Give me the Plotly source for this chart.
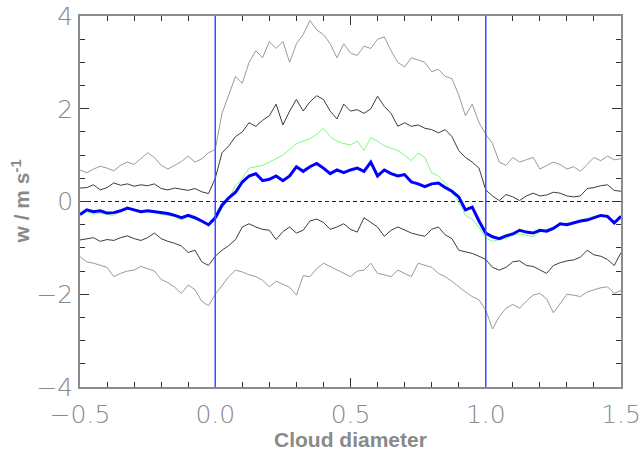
import numpy as np
import plotly.graph_objects as go

# x positions (cloud diameter), step 0.025 from -0.5 to 1.5
x_start, x_step, n_pts = -0.5, 0.025, 81
cloud_x = [round(x_start + i * x_step, 4) for i in range(n_pts)]

upper_outer = [0.68, 0.62, 0.70, 0.76, 0.72, 0.66, 0.78, 0.85, 0.80, 0.92, 1.05, 0.95, 0.78, 0.70, 0.78, 0.86, 0.98, 0.85, 0.92, 1.05, 1.12,
               1.90, 2.30, 2.70, 2.55, 3.00, 3.25, 3.10, 3.45, 3.30, 3.45, 3.00, 3.40, 3.60, 3.90, 3.70, 3.60, 3.40, 3.10, 3.40, 3.20,
               3.15, 3.35, 3.30, 3.50, 3.55, 3.25, 3.00, 2.90, 3.10, 3.05, 3.00, 2.80, 2.85, 2.70, 2.65, 2.30, 1.85, 2.10, 1.70, 1.45,
               1.25, 0.85, 0.78, 0.95, 0.85, 0.90, 0.95, 0.70, 0.78, 0.85, 0.80, 0.70, 0.75, 0.65, 0.80, 0.95, 0.88, 0.98, 0.90, 0.92]

upper_inner = [0.29, 0.30, 0.36, 0.25, 0.30, 0.40, 0.35, 0.38, 0.33, 0.36, 0.34, 0.38, 0.28, 0.25, 0.29, 0.26, 0.24, 0.28, 0.21, 0.17, 0.50,
               1.05, 1.20, 1.40, 1.50, 1.70, 1.62, 1.75, 1.85, 2.10, 1.65, 1.95, 2.20, 1.95, 2.15, 2.28, 2.20, 1.95, 1.78, 2.10, 1.95,
               1.98, 1.90, 2.00, 2.27, 2.05, 1.90, 1.62, 1.70, 1.62, 1.65, 1.58, 1.55, 1.48, 1.55, 1.40, 1.10, 0.95, 0.85, 0.72, 0.25,
               0.12, 0.02, 0.15, 0.10, 0.02, 0.12, 0.18, 0.12, 0.14, 0.20, 0.18, 0.12, 0.10, 0.12, 0.28, 0.30, 0.34, 0.36, 0.24, 0.22]

mean_blue = [-0.28, -0.18, -0.22, -0.20, -0.25, -0.24, -0.20, -0.14, -0.18, -0.22, -0.20, -0.22, -0.24, -0.26, -0.30, -0.35, -0.30, -0.35, -0.42, -0.50, -0.35,
             -0.08, 0.08, 0.20, 0.42, 0.55, 0.60, 0.45, 0.48, 0.55, 0.45, 0.55, 0.75, 0.65, 0.75, 0.82, 0.72, 0.60, 0.68, 0.62, 0.68,
             0.72, 0.65, 0.85, 0.55, 0.68, 0.60, 0.55, 0.58, 0.42, 0.38, 0.32, 0.38, 0.40, 0.30, 0.22, 0.10, -0.18, -0.12, -0.42, -0.68,
             -0.76, -0.80, -0.74, -0.70, -0.62, -0.66, -0.68, -0.62, -0.64, -0.58, -0.48, -0.50, -0.46, -0.42, -0.40, -0.35, -0.30, -0.32, -0.46, -0.32]

green_series = [-0.30, -0.22, -0.28, -0.25, -0.28, -0.30, -0.22, -0.12, -0.20, -0.25, -0.22, -0.24, -0.28, -0.30, -0.32, -0.40, -0.33, -0.38, -0.45, -0.52, -0.40,
                -0.15, 0.05, 0.35, 0.50, 0.72, 0.75, 0.78, 0.85, 0.92, 1.00, 1.12, 1.25, 1.30, 1.35, 1.45, 1.58, 1.40, 1.30, 1.25, 1.22,
                1.30, 1.10, 1.38, 1.30, 1.20, 1.15, 1.10, 1.00, 0.88, 1.05, 0.95, 0.62, 0.55, 0.40, 0.20, 0.00, -0.30, -0.38, -0.55, -0.78,
                -0.86, -0.82, -0.80, -0.72, -0.70, -0.72, -0.76, -0.66, -0.60, -0.55, -0.50, -0.46, -0.48, -0.40, -0.36, -0.32, -0.28, -0.36, -0.44, -0.30]

lower_inner = [-0.83, -0.80, -0.78, -0.86, -0.82, -0.84, -0.78, -0.74, -0.80, -0.84, -0.78, -0.68, -0.80, -0.86, -0.90, -0.96, -1.10, -1.05, -1.30, -1.38, -1.18,
               -1.05, -0.95, -0.82, -0.55, -0.48, -0.55, -0.60, -0.62, -0.82, -0.65, -0.55, -0.68, -0.62, -0.42, -0.38, -0.45, -0.60, -0.55, -0.48, -0.60,
               -0.66, -0.35, -0.45, -0.55, -0.75, -0.62, -0.55, -0.62, -0.68, -0.72, -0.75, -0.60, -0.55, -0.72, -0.80, -1.05, -1.08, -1.12, -1.18, -1.25,
               -1.42, -1.48, -1.42, -1.30, -1.28, -1.38, -1.40, -1.48, -1.55, -1.38, -1.32, -1.28, -1.26, -1.20, -1.05, -1.15, -1.18, -1.25, -1.38, -1.10]

lower_outer = [-1.19, -1.30, -1.33, -1.38, -1.42, -1.62, -1.55, -1.50, -1.48, -1.40, -1.45, -1.50, -1.68, -1.75, -1.85, -1.98, -1.80, -1.90, -2.15, -2.25, -2.00,
               -1.80, -1.62, -1.48, -1.52, -1.58, -1.62, -1.70, -1.84, -1.72, -1.78, -1.85, -2.02, -1.60, -1.62, -1.45, -1.33, -1.40, -1.48, -1.55, -1.62,
               -1.50, -1.48, -1.33, -1.55, -1.58, -1.62, -1.48, -1.55, -1.62, -1.33, -1.38, -1.42, -1.55, -1.62, -1.72, -1.84, -1.95, -2.05, -2.12, -2.34,
               -2.75, -2.48, -2.30, -2.22, -2.30, -2.15, -2.02, -1.98, -2.10, -2.40, -2.20, -2.00, -2.02, -2.05, -1.95, -1.90, -1.86, -1.84, -1.98, -1.92]

cloud_edges = [0.0, 1.0]

fig = go.Figure()

def add_line(y, color, width):
    fig.add_trace(go.Scatter(x=cloud_x, y=y, mode="lines",
                             line=dict(color=color, width=width), showlegend=False,
                             hoverinfo="skip"))

add_line(upper_outer, "#9a9a9a", 1)
add_line(lower_outer, "#9a9a9a", 1)
add_line(upper_inner, "#3c3c3c", 1)
add_line(lower_inner, "#3c3c3c", 1)
add_line(green_series, "#7dfa7d", 1)
add_line(mean_blue, "#0000ff", 3)

# zero line (dashed)
fig.add_trace(go.Scatter(x=[cloud_x[0], cloud_x[-1]], y=[0, 0], mode="lines",
                         line=dict(color="#222222", width=1, dash="4px,3px"),
                         showlegend=False, hoverinfo="skip"))

for xe in cloud_edges:
    fig.add_shape(type="line", x0=xe, x1=xe, y0=0, y1=1, xref="x", yref="paper",
                  line=dict(color="#3a4dff", width=1.5), layer="above")

axis_color = "#8c8c8c"
tick_color = "#333333"
tickfont = dict(family="DejaVu Sans", size=25, color="#8a8a8a", weight=200)
titlefont = dict(family="Liberation Sans", size=21, color="#8a8a8a", weight="bold")

common_axis = dict(showgrid=False, zeroline=False, showline=True, linecolor=axis_color, linewidth=1.5,
                   mirror="allticks", ticks="inside", ticklen=9, tickcolor=tick_color, tickwidth=1,
                   tickfont=tickfont, automargin=False, layer="above traces")

fig.update_layout(
    template="none",
    width=643, height=452,
    margin=dict(l=80, r=22, t=16, b=65),
    plot_bgcolor="white", paper_bgcolor="white",
    xaxis=dict(range=[-0.5, 1.5], tickmode="linear", tick0=-0.5, dtick=0.5, tickformat=".1f",
               ticklabelstandoff=4,
               minor=dict(dtick=0.1, ticks="inside", ticklen=5, tickcolor=tick_color, tickwidth=1, showgrid=False),
               **common_axis),
    yaxis=dict(range=[-4, 4], tickmode="linear", tick0=0, dtick=2,
               minor=dict(dtick=0.5, ticks="inside", ticklen=5, tickcolor=tick_color, tickwidth=1, showgrid=False),
               **common_axis),
    annotations=[
        dict(text="Cloud diameter", x=0.5, y=-52/371, xref="paper", yref="paper",
             xanchor="center", yanchor="middle", showarrow=False, font=titlefont),
        dict(text="w / m s<sup>-1</sup>", x=-60/541, y=0.5, xref="paper", yref="paper",
             xanchor="center", yanchor="middle", showarrow=False, textangle=-90, font=titlefont),
    ],
)

fig.write_html("out.html")
